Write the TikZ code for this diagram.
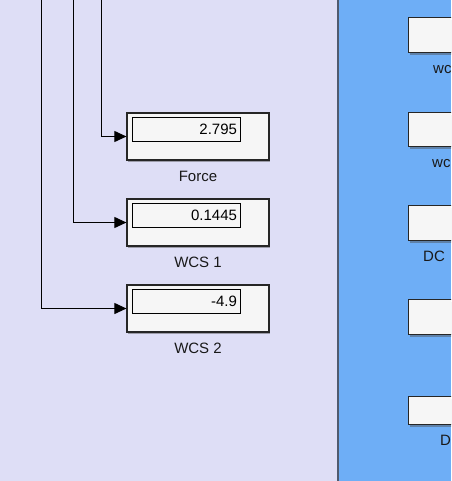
\documentclass[tikz,border=0pt]{standalone}
\usepackage{fontspec}
\setmainfont{Liberation Sans}
\usepackage{tikz}
\usetikzlibrary{arrows.meta,positioning,shadows,calc}

\definecolor{canvas}{RGB}{222,222,246}
\definecolor{subsys}{RGB}{110,174,246}
\definecolor{blockfill}{RGB}{246,246,246}
\definecolor{paneline}{RGB}{80,90,110}

\begin{document}
\begin{tikzpicture}[
    x=1pt, y=-1pt,
    every node/.style={font=\fontsize{15}{18}\selectfont},
    display/.style={rectangle, draw=black!85, line width=1.2pt, fill=blockfill,
        minimum width=142pt, minimum height=47pt, inner sep=0pt,
        drop shadow={shadow xshift=1pt, shadow yshift=-2pt, opacity=0.45, fill=black!70}},
    readout/.style={rectangle, draw=black, line width=0.9pt, fill=blockfill,
        minimum height=24pt, text width=102pt, align=right, inner sep=3pt},
    block/.style={rectangle, draw=black!85, line width=1.2pt, fill=blockfill,
        minimum width=80pt, anchor=north west, inner sep=0pt,
        drop shadow={shadow xshift=1pt, shadow yshift=-2pt, opacity=0.45, fill=black!70}},
    lbl/.style={inner sep=0pt, text height=10.7pt, text depth=0pt, text=black!90},
    sig/.style={draw=black, line width=1pt, -{Triangle[length=12pt,width=11pt]}}
    ]
    \useasboundingbox (0,0) rectangle (451,481);
    \clip (0,0) rectangle (451,481);
    % panes
    \fill[canvas] (0,0) rectangle (338,481);
    \fill[subsys] (338,0) rectangle (451,481);
    \draw[paneline, line width=1.2pt] (338,0) -- (338,481);

    % displays
    \node (Disp01) [display] at (198,136.5) {};
    \node (Read01) [readout] at (186,129) {2.795};
    \node (Lbl01) [lbl, below=9.5pt of Disp01] {Force};

    \node (Disp02) [display] at (198,222.5) {};
    \node (Read02) [readout] at (186,215) {0.1445};
    \node (Lbl02) [lbl, below=9.5pt of Disp02] {WCS 1};

    \node (Disp03) [display] at (198,308.5) {};
    \node (Read03) [readout] at (186,301) {-4.9};
    \node (Lbl03) [lbl, below=9.5pt of Disp03] {WCS 2};

    % signals coming from above
    \coordinate (Src01) at (101,0);
    \coordinate (Src02) at (73,0);
    \coordinate (Src03) at (41,0);
    \draw[sig] (Src01) |- (Disp01.west);
    \draw[sig] (Src02) |- (Disp02.west);
    \draw[sig] (Src03) |- (Disp03.west);

    % blocks in the subsystem pane
    \node (Blk01) [block, minimum height=35pt] at (408,17) {};
    \node (Blk02) [block, minimum height=34pt] at (408,112) {};
    \node (Blk03) [block, minimum height=35pt] at (408,205) {};
    \node (Blk04) [block, minimum height=35pt] at (408,299) {};
    \node (Blk05) [block, minimum height=28pt] at (408,396) {};
    \node (BlkLbl01) [lbl, text height=, anchor=base west] at ($(Blk01.south west)+(25,20.5)$) {wc};
    \node (BlkLbl02) [lbl, text height=, anchor=base west] at ($(Blk02.south west)+(24,20.5)$) {wc};
    \node (BlkLbl03) [lbl, text height=, anchor=base west] at ($(Blk03.south west)+(15,20)$) {DC};
    \node (BlkLbl05) [lbl, text height=, anchor=base west] at ($(Blk05.south west)+(32,20)$) {D};
\end{tikzpicture}
\end{document}
